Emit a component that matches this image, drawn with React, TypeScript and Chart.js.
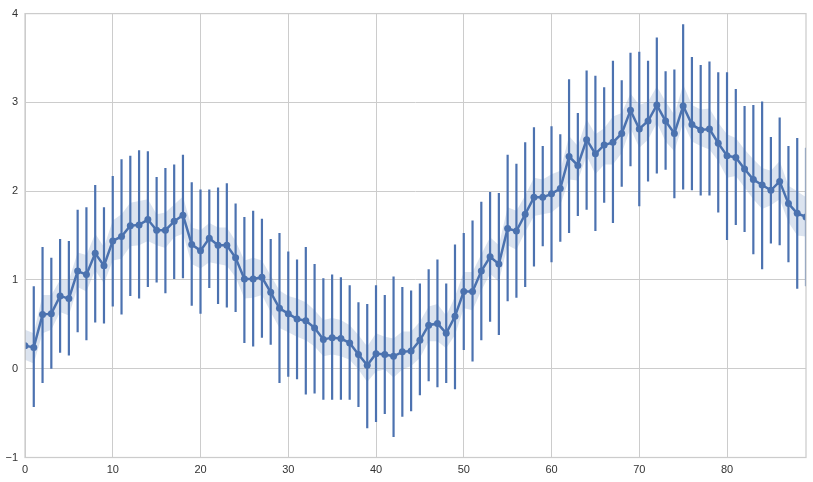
import React, { useEffect, useRef } from "react";
import { Chart, registerables } from "chart.js";

Chart.register(...registerables);

const xValues: number[] = Array.from({ length: 90 }, (_, i) => i);

const meanValues: number[] = [
  0.26, 0.24, 0.61, 0.62, 0.82, 0.79, 1.10, 1.06, 1.30, 1.16,
  1.44, 1.49, 1.61, 1.62, 1.68, 1.56, 1.56, 1.66, 1.73, 1.40,
  1.33, 1.47, 1.39, 1.39, 1.25, 1.01, 1.01, 1.03, 0.86, 0.68,
  0.62, 0.56, 0.54, 0.46, 0.33, 0.35, 0.34, 0.29, 0.16, 0.04,
  0.17, 0.16, 0.14, 0.19, 0.20, 0.32, 0.49, 0.51, 0.40, 0.59,
  0.87, 0.87, 1.10, 1.26, 1.18, 1.58, 1.55, 1.74, 1.93, 1.93,
  1.97, 2.03, 2.39, 2.29, 2.58, 2.42, 2.52, 2.55, 2.65, 2.91,
  2.70, 2.79, 2.97, 2.79, 2.65, 2.96, 2.75, 2.69, 2.70, 2.54,
  2.40, 2.38, 2.25, 2.13, 2.07, 2.01, 2.11, 1.86, 1.75, 1.71,
];

const errLow: (number | null)[] = [
  null, -0.43, -0.16, 0.00, 0.18, 0.15, 0.41, 0.32, 0.52, 0.51,
  0.70, 0.61, 0.82, 0.79, 0.92, 0.97, 0.85, 1.01, 1.02, 0.71,
  0.62, 0.91, 0.73, 0.69, 0.64, 0.29, 0.25, 0.35, 0.27, -0.16,
  -0.09, -0.12, -0.29, -0.28, -0.35, -0.35, -0.35, -0.35, -0.43, -0.67,
  -0.60, -0.51, -0.77, -0.54, -0.48, -0.30, -0.14, -0.21, -0.16, -0.23,
  0.21, 0.08, 0.32, 0.53, 0.38, 0.76, 0.80, 0.92, 1.15, 1.38,
  1.20, 1.43, 1.53, 1.72, 1.79, 1.55, 1.87, 1.64, 2.05, 2.28,
  1.83, 2.11, 2.20, 2.24, 1.92, 2.02, 2.01, 1.95, 1.95, 1.76,
  1.45, 1.62, 1.54, 1.29, 1.12, 1.41, 1.39, 1.20, 0.90, 0.93,
];

const errHigh: (number | null)[] = [
  null, 0.93, 1.37, 1.25, 1.46, 1.44, 1.79, 1.82, 2.07, 1.82,
  2.17, 2.36, 2.40, 2.46, 2.45, 2.16, 2.26, 2.30, 2.41, 2.10,
  2.02, 2.02, 2.04, 2.09, 1.86, 1.71, 1.78, 1.69, 1.46, 1.53,
  1.32, 1.23, 1.37, 1.18, 1.02, 1.06, 1.03, 0.94, 0.75, 0.73,
  0.94, 0.83, 1.04, 0.92, 0.88, 0.96, 1.12, 1.23, 0.96, 1.40,
  1.53, 1.67, 1.88, 1.99, 1.98, 2.41, 2.31, 2.55, 2.72, 2.51,
  2.73, 2.64, 3.26, 2.88, 3.36, 3.30, 3.17, 3.47, 3.25, 3.56,
  3.57, 3.47, 3.73, 3.35, 3.37, 3.88, 3.51, 3.42, 3.46, 3.34,
  3.34, 3.15, 2.96, 2.97, 3.01, 2.61, 2.83, 2.51, 2.60, 2.49,
];

const bandLow: number[] = [
  0.10, 0.06, 0.40, 0.44, 0.64, 0.60, 0.92, 0.87, 1.11, 0.96,
  1.22, 1.24, 1.38, 1.39, 1.44, 1.39, 1.36, 1.48, 1.52, 1.18,
  1.13, 1.20, 1.18, 1.16, 1.03, 0.79, 0.80, 0.83, 0.64, 0.46,
  0.41, 0.36, 0.32, 0.25, 0.14, 0.16, 0.14, 0.10, -0.01, -0.15,
  -0.03, -0.01, -0.10, -0.01, 0.03, 0.12, 0.31, 0.31, 0.23, 0.38,
  0.68, 0.66, 0.88, 1.07, 0.98, 1.39, 1.34, 1.54, 1.72, 1.74,
  1.76, 1.84, 2.13, 2.12, 2.40, 2.19, 2.30, 2.30, 2.43, 2.71,
  2.49, 2.58, 2.77, 2.56, 2.45, 2.77, 2.56, 2.51, 2.47, 2.34,
  2.15, 2.17, 2.04, 1.91, 1.80, 1.84, 1.91, 1.65, 1.50, 1.49,
];

const bandHigh: number[] = [
  0.44, 0.40, 0.83, 0.83, 1.00, 1.00, 1.31, 1.28, 1.52, 1.37,
  1.67, 1.74, 1.87, 1.89, 1.91, 1.74, 1.76, 1.85, 1.94, 1.59,
  1.56, 1.64, 1.59, 1.59, 1.44, 1.22, 1.25, 1.22, 1.05, 0.88,
  0.82, 0.79, 0.75, 0.66, 0.55, 0.57, 0.55, 0.49, 0.38, 0.25,
  0.40, 0.36, 0.34, 0.42, 0.42, 0.53, 0.70, 0.73, 0.60, 0.81,
  1.09, 1.09, 1.29, 1.48, 1.39, 1.82, 1.78, 1.95, 2.15, 2.13,
  2.19, 2.23, 2.62, 2.51, 2.81, 2.64, 2.71, 2.84, 2.88, 3.10,
  2.97, 3.01, 3.18, 3.01, 2.86, 3.20, 2.97, 2.92, 2.93, 2.77,
  2.64, 2.60, 2.47, 2.36, 2.26, 2.23, 2.34, 2.06, 2.00, 1.93,
];

const xTickValues: number[] = [0, 10, 20, 30, 40, 50, 60, 70, 80];
const yTickValues: number[] = [-1, 0, 1, 2, 3, 4];

const BLUE = "#4c72b0";
const BAND = "rgba(76,114,176,0.2)";
const GRID = "#cccccc";
const FONT = { family: "'Liberation Sans', Arial, sans-serif", size: 11 };

export default function App() {
  const ref = useRef<HTMLCanvasElement | null>(null);

  useEffect(() => {
    document.body.style.margin = "0";
    const canvas = ref.current;
    if (!canvas) return;

    const errorBars = {
      id: "errorBars",
      beforeDatasetDraw(chart: any, args: any) {
        if (args.index !== 2) return;
        const { ctx, chartArea, scales } = chart;
        ctx.save();
        ctx.beginPath();
        ctx.rect(chartArea.left, chartArea.top, chartArea.right - chartArea.left, chartArea.bottom - chartArea.top);
        ctx.clip();
        ctx.strokeStyle = BLUE;
        ctx.lineWidth = 2.2;
        ctx.lineCap = "butt";
        for (let i = 0; i < xValues.length; i++) {
          const lo = errLow[i];
          const hi = errHigh[i];
          if (lo == null || hi == null) continue;
          const px = scales.x.getPixelForValue(xValues[i]);
          ctx.beginPath();
          ctx.moveTo(px, scales.y.getPixelForValue(lo));
          ctx.lineTo(px, scales.y.getPixelForValue(hi));
          ctx.stroke();
        }
        ctx.restore();
      },
    };

    const frame = {
      id: "frame",
      afterDatasetsDraw(chart: any) {
        const { ctx, chartArea } = chart;
        ctx.save();
        ctx.strokeStyle = GRID;
        ctx.lineWidth = 1.25;
        ctx.strokeRect(chartArea.left, chartArea.top, chartArea.right - chartArea.left, chartArea.bottom - chartArea.top);
        ctx.restore();
      },
    };

    const chart = new Chart(canvas, {
      type: "line",
      data: {
        labels: xValues,
        datasets: [
          {
            data: xValues.map((x, i) => ({ x, y: bandLow[i] })),
            borderWidth: 0,
            pointRadius: 0,
            fill: false,
            borderColor: "rgba(0,0,0,0)",
          },
          {
            data: xValues.map((x, i) => ({ x, y: bandHigh[i] })),
            borderWidth: 0,
            pointRadius: 0,
            fill: "-1",
            backgroundColor: BAND,
            borderColor: "rgba(0,0,0,0)",
          },
          {
            data: xValues.map((x, i) => ({ x, y: meanValues[i] })),
            borderColor: BLUE,
            borderWidth: 2.5,
            pointRadius: 3.5,
            pointBackgroundColor: BLUE,
            pointBorderColor: BLUE,
            pointBorderWidth: 0,
            fill: false,
            tension: 0,
          },
        ],
      },
      options: {
        animation: false,
        responsive: false,
        events: [],
        layout: { padding: { top: 11.5, right: 7, left: 0, bottom: 0 } },
        plugins: {
          legend: { display: false },
          tooltip: { enabled: false },
        },
        scales: {
          x: {
            type: "linear",
            min: 0,
            max: 89,
            afterBuildTicks: (scale: any) => {
              scale.ticks = xTickValues.map((v) => ({ value: v }));
            },
            afterFit: (scale: any) => {
              scale.height = 24.5;
            },
            grid: { color: GRID, lineWidth: 1, drawTicks: false },
            border: { display: false },
            ticks: { color: "#333333", font: FONT, padding: 6, maxRotation: 0, autoSkip: false },
          },
          y: {
            type: "linear",
            min: -1,
            max: 4,
            afterBuildTicks: (scale: any) => {
              scale.ticks = yTickValues.map((v) => ({ value: v }));
            },
            afterFit: (scale: any) => {
              scale.width = 25;
            },
            grid: { color: GRID, lineWidth: 1, drawTicks: false },
            border: { display: false },
            ticks: {
              color: "#333333",
              font: FONT,
              padding: 7,
              callback: (v: any) => (Number(v) < 0 ? "\u2212" + Math.abs(Number(v)) : String(v)),
            },
          },
        },
      },
      plugins: [errorBars, frame],
    });

    return () => chart.destroy();
  }, []);

  return (
    <div style={{ position: "absolute", left: 0, top: 0, width: 813, height: 482, background: "#ffffff" }}>
      <canvas ref={ref} width={813} height={482} style={{ display: "block" }} />
    </div>
  );
}
